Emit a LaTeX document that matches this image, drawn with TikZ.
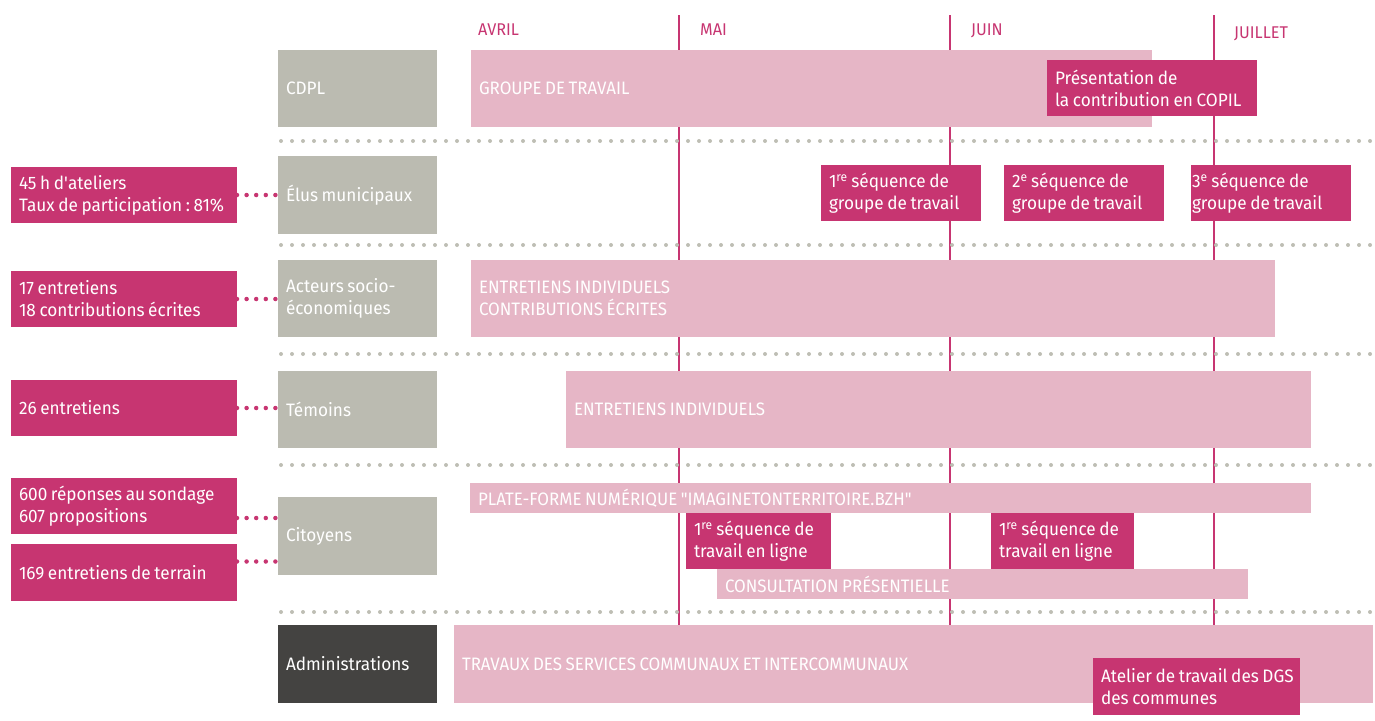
\documentclass[tikz,border=0pt]{standalone}
\usepackage{fontspec}
\setmainfont{Fira Sans}[FakeStretch=0.955]
\newfontfamily\capsfont{Fira Sans}[FakeStretch=0.94]
\usepackage{tikz}
\usetikzlibrary{positioning, backgrounds}
\definecolor{accentcolor}{RGB}{199, 53, 113}
\definecolor{phasecolor}{RGB}{230, 182, 198}
\definecolor{headcolor}{RGB}{187, 187, 177}
\definecolor{admincolor}{RGB}{68, 67, 65}
\definecolor{dotcolor}{RGB}{190, 190, 180}
\newcommand{\rowfont}{\fontsize{18}{22}\selectfont}
\newcommand{\monthfont}{\fontsize{17}{20}\selectfont}
\tikzset{box/.style 2 args={text width={#1-16}, minimum height=#2}}
\tikzstyle{cell} = [rectangle, anchor=north west, inner xsep=8pt, inner ysep=0pt, outer sep=0pt, text=white, align=left, font=\rowfont, execute at begin node={\frenchspacing\rightskip=0pt plus 1fil minus 100pt\spaceskip=0.2em plus 0.1em minus 0.04em}]
\tikzstyle{rowhead} = [cell, fill=headcolor]
\tikzstyle{stat} = [cell, fill=accentcolor]
\tikzstyle{event} = [cell, fill=accentcolor]
\tikzstyle{phase} = [cell, fill=phasecolor, font=\rowfont\capsfont]
\tikzstyle{month} = [anchor=base west, inner sep=0pt, text=accentcolor, font=\monthfont]
\tikzstyle{monthline} = [accentcolor, line width=2pt]
\tikzstyle{sepline} = [dotcolor, line width=4pt, line cap=round, dash pattern=on 0pt off 11pt]
\tikzstyle{linkdots} = [accentcolor, line width=4.5pt, line cap=round, dash pattern=on 0pt off 9.6pt]

\begin{document}
\begin{tikzpicture}[x=1pt, y=-1pt]
\useasboundingbox (0,0) rectangle (1375,720);

% Mois
\node (avril) [month] at (478,35) {AVRIL};
\node (mai) [month] at (700,35) {MAI};
\node (juin) [month] at (971,35) {JUIN};
\node (juillet) [month] at (1234,38) {JUILLET};

% CDPL
\node (cdpl) [rowhead, box={159}{77}] at (278,50) {CDPL};
\node (groupe) [phase, box={681}{77}] at (471,50) {GROUPE DE TRAVAIL};
\node (copil) [event, box={210}{56}] at (1047,60) {Présentation de\\la contribution en COPIL};

% Élus municipaux
\node (elus) [rowhead, box={159}{78}] at (278,156) {Élus municipaux};
\node (statelus) [stat, box={226}{56}] at (11,167) {45 h d\textquotesingle ateliers\\Taux de participation : 81\%};
\node (seqa) [event, box={160}{56}] at (821,165) {1\textsuperscript{re} séquence de\\groupe de travail};
\node (seqb) [event, box={160}{56}] at (1004,165) {2\textsuperscript{e} séquence de\\groupe de travail};
\node (seqc) [event, box={160}{56}, inner xsep=1pt, text width=158] at (1191,165) {3\textsuperscript{e} séquence de\\groupe de travail};

% Acteurs socio-économiques
\node (acteurs) [rowhead, box={159}{77}] at (278,260) {Acteurs socio-\\économiques};
\node (statacteurs) [stat, box={226}{56}] at (11,271) {17 entretiens\\18 contributions écrites};
\node (entretiens) [phase, box={804}{77}] at (471,260) {ENTRETIENS INDIVIDUELS\\CONTRIBUTIONS ÉCRITES};

% Témoins
\node (temoins) [rowhead, box={159}{77}] at (278,371) {Témoins};
\node (stattemoins) [stat, box={226}{56}] at (11,380) {26 entretiens};
\node (indiv) [phase, box={745}{77}] at (566,371) {ENTRETIENS INDIVIDUELS};

% Citoyens
\node (citoyens) [rowhead, box={159}{78}] at (278,497) {Citoyens};
\node (statsondage) [stat, box={226}{56}] at (11,478) {600 réponses au sondage\\607 propositions};
\node (statterrain) [stat, box={226}{57}] at (11,544) {169 entretiens de terrain};
\node (plateforme) [phase, box={841}{30}] at (470,483) {PLATE-FORME NUMÉRIQUE "IMAGINETONTERRITOIRE.BZH"};
\node (enlignea) [event, box={145}{56}] at (686,513) {1\textsuperscript{re} séquence de\\travail en ligne};
\node (enligneb) [event, box={143}{56}] at (991,513) {1\textsuperscript{re} séquence de\\travail en ligne};
\node (consult) [phase, box={531}{30}] at (717,569) {CONSULTATION PRÉSENTIELLE};

% Administrations
\node (admin) [rowhead, fill=admincolor, box={159}{78}] at (278,625) {Administrations};
\node (travaux) [phase, box={919}{78}] at (454,625) {TRAVAUX DES SERVICES COMMUNAUX ET INTERCOMMUNAUX};
\node (dgs) [event, box={207}{57}] at (1093,658) {Atelier de travail des DGS\\des communes};

% Lignes et pointillés
\begin{scope}[on background layer]
\foreach \x in {679,950,1214}
  \draw [monthline] (\x,15) -- (\x,625);
\foreach \y in {141,245,354,465,612}
  \draw [sepline] (281,\y) -- (1375,\y);
\draw [linkdots] (statelus.east) -- (statelus.east -| elus.west);
\draw [linkdots] (statacteurs.east) -- (statacteurs.east -| acteurs.west);
\draw [linkdots] (stattemoins.east) -- (stattemoins.east -| temoins.west);
\draw [linkdots] ([yshift=-12pt]statsondage.east) -- ([yshift=-12pt]statsondage.east -| citoyens.west);
\draw [linkdots] ([yshift=11pt]statterrain.east) -- ([yshift=11pt]statterrain.east -| citoyens.west);
\end{scope}

\end{tikzpicture}
\end{document}
